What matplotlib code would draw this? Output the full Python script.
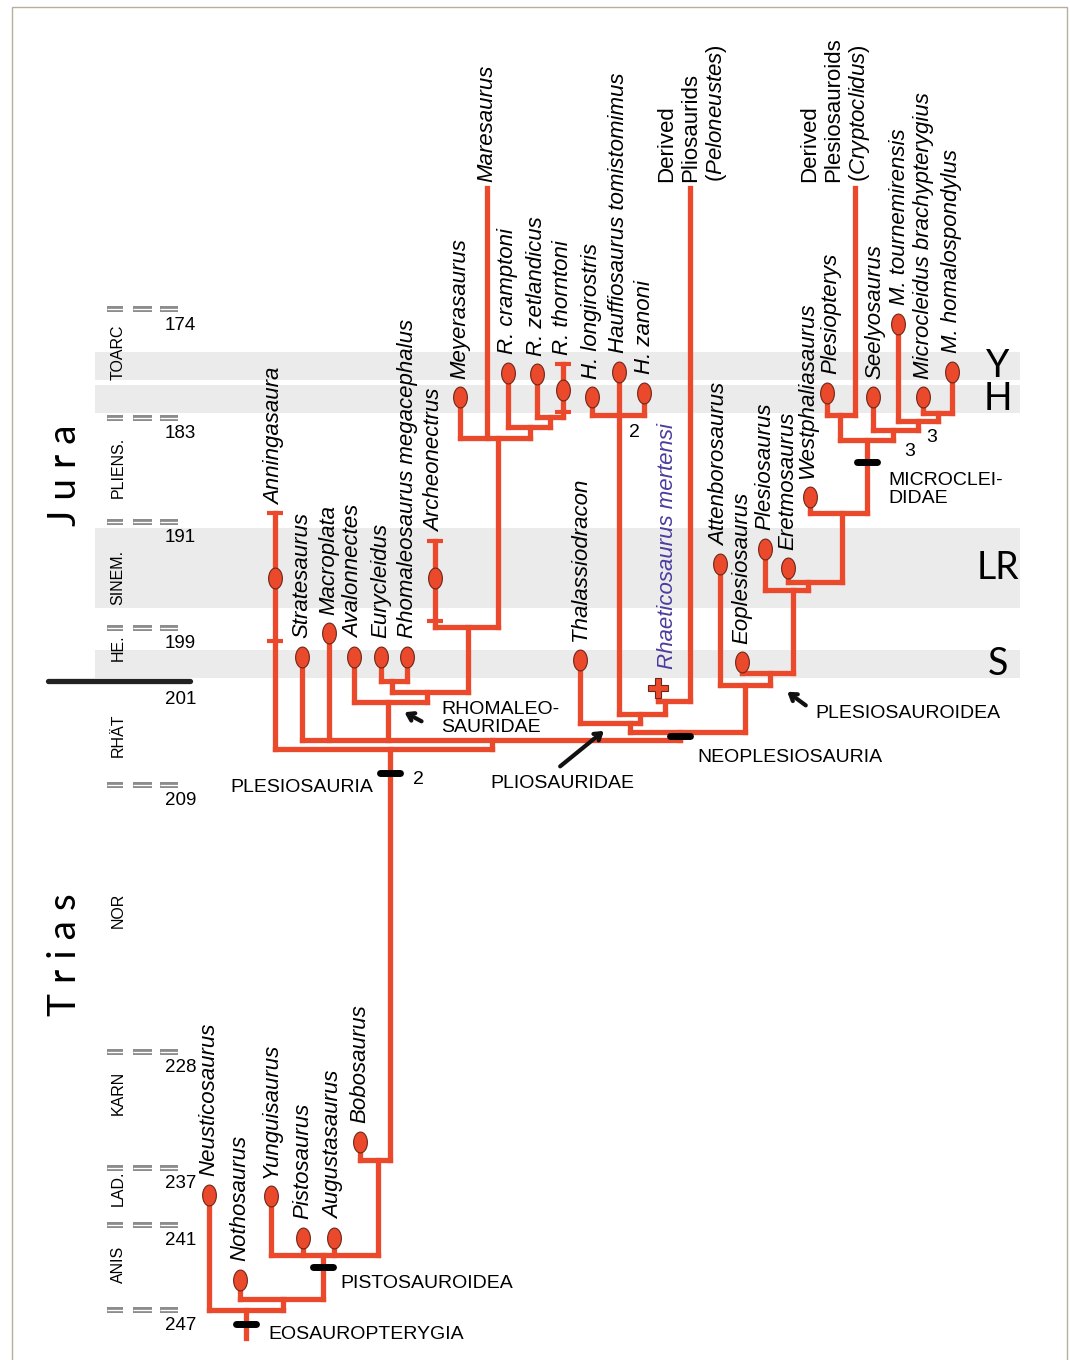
import numpy as np
import matplotlib.pyplot as plt
from matplotlib.markers import MarkerStyle
from matplotlib.path import Path
from matplotlib.patches import Rectangle

plt.rcParams['font.family'] = ['Liberation Sans', 'DejaVu Sans']
plt.rcParams['mathtext.fontset'] = 'custom'
plt.rcParams['mathtext.rm'] = 'Liberation Sans'
plt.rcParams['mathtext.it'] = 'Liberation Sans:italic'

# ---- time scale (Ma) ----
boundary_ages = [174, 183, 191, 199, 201, 209, 228, 237, 241, 247]
stage_names = ["TOARC", "PLIENS.", "SINEM.", "HE.", "RHÄT", "NOR", "KARN", "LAD.", "ANIS"]
stage_label_age = [177.6, 186.8, 195.2, 199.75, 205.2, 217.9, 231.2, 238.4, 243.8]

# grey horizons: Y, H, LR, S
horizon_names = ["Y", "H", "LR", "S"]
horizon_top = [177.55, 180.3, 191.45, 199.83]
horizon_base = [179.86, 182.6, 197.5, 200.9]

# ---- terminal taxa ----
tip_names = ["Neusticosaurus", "Nothosaurus", "Yunguisaurus", "Pistosaurus",
             "Augustasaurus", "Bobosaurus", "Anningasaura", "Stratesaurus",
             "Macroplata", "Avalonnectes", "Eurycleidus",
             "Rhomaleosaurus megacephalus", "Archeonectrus", "Meyerasaurus",
             "Maresaurus", "R. cramptoni", "R. zetlandicus", "R. thorntoni",
             "H. longirostris", "Hauffiosaurus tomistomimus", "H. zanoni",
             "Thalassiodracon", "Rhaeticosaurus mertensi",
             "Derived\nPliosaurids\n($\\it{Peloneustes}$)",
             "Attenborosaurus", "Eoplesiosaurus", "Plesiosaurus", "Eretmosaurus",
             "Westphaliasaurus", "Plesiopterys",
             "Derived\nPlesiosauroids\n($\\it{Cryptoclidus}$)",
             "Seelyosaurus", "M. tournemirensis", "Microcleidus brachypterygius",
             "M. homalospondylus"]
tip_x = [209, 240, 271, 303, 334, 360, 275, 302, 329, 354, 381, 407, 435, 460,
         487, 508, 537, 563, 592, 619, 644, 580, 658, 690, 720, 742, 765, 788,
         810, 827, 855, 873, 898, 923, 952]
tip_age = [238.9, 244.9, 239.0, 241.9, 241.9, 235.0, 195.2, 200.1, 199.2, 200.1,
           200.1, 200.1, 195.2, 181.3, 164.0, 179.3, 179.4, 180.7, 181.3, 179.2,
           180.9, 200.2, 201.5, 164.0, 194.2, 200.3, 193.0, 194.5, 189.1, 180.9,
           164.0, 181.3, 175.2, 181.3, 179.2]
tip_parent = ["Eosauropterygia", "n_b", "Pistosauroidea", "Pistosauroidea",
              "Pistosauroidea", "n_c", "Plesiosauria", "n_neo", "n_neo",
              "Rhomaleosauridae", "n_eu", "n_eu", "n_rh3", "n_rh4", "n_rh4",
              "n_rh5", "n_rh6", "n_rh6", "n_hauff", "n_hauff", "n_hauff",
              "Pliosauridae", "n_p3", "n_p3", "Plesiosauroidea", "n_ps2", "n_ps3",
              "n_ps4", "n_ps5", "n_mc1", "n_mc1", "n_mc2", "n_mc3", "n_mc4", "n_mc4"]
tip_kind = ["oval"] * len(tip_names)
for name in ["Maresaurus", tip_names[23], tip_names[30]]:
    tip_kind[tip_names.index(name)] = "line"
tip_kind[tip_names.index("Rhaeticosaurus mertensi")] = "cross"

# stratigraphic ranges (young end, old end)
range_names = ["Anningasaura", "Archeonectrus", "R. thorntoni"]
range_young = [190.3, 192.4, 178.5]
range_old = [199.5, 198.5, 182.5]

# ---- internal nodes ----
node_ids = ["root", "Eosauropterygia", "n_b", "Pistosauroidea", "n_c",
            "Plesiosauria", "n_neo", "Rhomaleosauridae", "n_rh2", "n_eu", "n_rh3",
            "n_rh4", "n_rh5", "n_rh6", "Neoplesiosauria", "Pliosauridae", "n_p2",
            "n_p3", "n_hauff", "Plesiosauroidea", "n_ps2", "n_ps3", "n_ps4",
            "n_ps5", "Microcleididae", "n_mc1", "n_mc2", "n_mc3", "n_mc4"]
node_x = [246, 246, 283, 323, 378, 390, 492, 388, 427, 392, 468, 498, 530, 550,
          680, 630, 640, 665, 619, 745, 770, 793, 808, 842, 867, 840, 893, 918, 938]
node_age = [249.0, 247.0, 246.2, 243.1, 236.4, 206.2, 205.5, 202.6, 201.85, 201.0,
            198.9, 184.5, 183.7, 182.9, 204.9, 204.2, 203.5, 202.5, 182.75, 201.3,
            200.7, 196.1, 195.5, 190.3, 184.7, 182.75, 183.9, 183.2, 182.6]
node_parent = [None, "root", "Eosauropterygia", "n_b", "Pistosauroidea", "n_c",
               "Plesiosauria", "n_neo", "Rhomaleosauridae", "n_rh2", "n_rh2",
               "n_rh3", "n_rh4", "n_rh5", "n_neo", "Neoplesiosauria", "Pliosauridae",
               "n_p2", "n_p2", "Neoplesiosauria", "Plesiosauroidea", "n_ps2",
               "n_ps3", "n_ps4", "n_ps5", "Microcleididae", "Microcleididae",
               "n_mc2", "n_mc3"]

# synapomorphy bars on clade stems
bar_nodes = ["Eosauropterygia", "Pistosauroidea", "Plesiosauria",
             "Neoplesiosauria", "Microcleididae"]
bar_age = [248.0, 244.0, 208.1, 205.2, 186.4]

RED = "#ea4a2b"
EDGE = "#6e2416"
LW = 3.8

# stretched vertical time axis: row position of each boundary
scale_age = np.array([100.0] + boundary_ages + [300.0])
scale_row = np.array([309 - 74 * 12.11, 309, 418, 522, 628, 681, 785, 1052,
                      1168, 1225, 1310, 1310 + 53 * 14.17])


def fwd(a):
    return np.interp(a, scale_age, scale_row)


def inv(r):
    return np.interp(r, scale_row, scale_age)


fig = plt.figure(figsize=(10.7, 13.6), dpi=100)
ax = fig.add_axes([0, 0, 1, 1])
ax.set_yscale('function', functions=(fwd, inv))
ax.set_xlim(0, 1070)
ax.set_ylim(250.53, 148.48)
ax.axis('off')

# horizons
for top, base in zip(horizon_top, horizon_base):
    ax.axhspan(top, base, xmin=95 / 1070, xmax=1020 / 1070, color="#ebebeb",
               lw=0, zorder=0)
for name, top, base in zip(horizon_names, horizon_top, horizon_base):
    ax.text(998, inv((fwd(top) + fwd(base)) / 2), name,
            family=['Lato', 'DejaVu Sans'], fontsize=27, ha='center',
            va='center')

# time scale
for age in boundary_ages:
    if age == 201:
        ax.plot([48, 190], [age, age], color="#222222", lw=3.8,
                solid_capstyle='round')
        ax.annotate(str(age), (196, age), xytext=(0, -13.5),
                    textcoords='offset points', ha='right', va='center',
                    fontsize=13.5)
        continue
    for x0, x1 in [(107, 123), (133, 152), (160, 178)]:
        ax.plot([x0, x1], [age, age], color="#8c8c8c", lw=4.3,
                solid_capstyle='butt')
        ax.plot([x0, x1], [age, age], color="white", lw=0.9,
                solid_capstyle='butt')
    ax.annotate(str(age), (196, age), xytext=(0, -11.5),
                textcoords='offset points', ha='right', va='center',
                fontsize=13.5)
for name, age in zip(stage_names, stage_label_age):
    ax.text(118, age, name, rotation=90, ha='center', va='center', fontsize=11.5)

ax.text(65, 187.4, "J u r a", rotation=90, ha='center', va='center',
        fontsize=28, family=['Lato', 'DejaVu Sans'])
ax.text(65, 221.1, "T r i a s", rotation=90, ha='center', va='center',
        fontsize=28, family=['Lato', 'DejaVu Sans'])

# ---- tree ----
pos = {}
for n, x, a in zip(node_ids, node_x, node_age):
    pos[n] = (x, a)
children = {}
for n, p, x in zip(node_ids, node_parent, node_x):
    if p is not None:
        children.setdefault(p, []).append(x)
for n, p, x in zip(tip_names, tip_parent, tip_x):
    children.setdefault(p, []).append(x)

line_kw = dict(color=RED, lw=LW, solid_capstyle='projecting', zorder=2)
# horizontal bars
for n, x, a in zip(node_ids, node_x, node_age):
    xs = [x] + children.get(n, [])
    if max(xs) > min(xs):
        ax.plot([min(xs), max(xs)], [a, a], **line_kw)
# stems of internal nodes
for n, x, a, p in zip(node_ids, node_x, node_age, node_parent):
    if p is not None:
        ax.plot([x, x], [a, pos[p][1]], **line_kw)
# stems of tips
for n, x, a, p in zip(tip_names, tip_x, tip_age, tip_parent):
    start = a
    if n in range_names:
        start = range_young[range_names.index(n)]
    ax.plot([x, x], [start, pos[p][1]], **line_kw)

# range ticks
for n, y0, y1 in zip(range_names, range_young, range_old):
    x = tip_x[tip_names.index(n)]
    ax.plot([x, x], [y0, y1], ls='none', marker='_', ms=12, mew=3,
            color=RED, zorder=3)

# tip markers
theta = np.linspace(0, 2 * np.pi, 60)
oval = MarkerStyle(Path(np.column_stack([0.66 * np.cos(theta), np.sin(theta)])))
for n, x, a, k in zip(tip_names, tip_x, tip_age, tip_kind):
    if k == "oval":
        ax.plot(x, a, marker=oval, ms=15, mfc=RED, mec=EDGE, mew=0.8, zorder=4)
    elif k == "cross":
        ax.plot(x, a, marker='P', ms=15, mfc=RED, mec=EDGE, mew=0.8, zorder=4)

# tip labels
nudge = {"Westphaliasaurus": -1.5, "Plesiopterys": 2.5, "Seelyosaurus": 1,
         "M. tournemirensis": 1}
for n, x, a, k in zip(tip_names, tip_x, tip_age, tip_kind):
    dx, dy = nudge.get(n, 0), 13.5
    top = a
    if n in range_names:
        top = range_young[range_names.index(n)]
        dy = 6
    if k == "line":
        dy = 4
    color = "black"
    style = 'italic'
    if k == "cross":
        dx = 7
        color = "#4b3c9e"
    if n.startswith("Derived"):
        style = 'normal'
        dx = 2 if "Plio" in n else -14
    ax.annotate(n, (x, top), xytext=(dx, dy), textcoords='offset points',
                rotation=90, ha='center', va='bottom', fontsize=16,
                fontstyle=style, color=color, multialignment='left',
                linespacing=1.18, zorder=5)

# synapomorphy bars
bar_marker = MarkerStyle('_', capstyle='round')
for n, a in zip(bar_nodes, bar_age):
    ax.plot(pos[n][0], a, marker=bar_marker, ms=15, mew=5, color="black",
            zorder=5)

# clade names
clade_kw = dict(fontsize=14, ha='left', va='center', zorder=5)
ax.text(230, 209.2, "PLESIOSAURIA", **clade_kw)
ax.text(441, 203.9, "RHOMALEO-\nSAURIDAE", linespacing=1.1, **clade_kw)
ax.text(490, 208.85, "PLIOSAURIDAE", **clade_kw)
ax.text(697, 206.9, "NEOPLESIOSAURIA", **clade_kw)
ax.text(815, 203.5, "PLESIOSAUROIDEA", **clade_kw)
ax.text(888, 188.5, "MICROCLEI-\nDIDAE", linespacing=1.1, **clade_kw)
ax.text(340, 245.1, "PISTOSAUROIDEA", **clade_kw)
ax.text(268, 248.7, "EOSAUROPTERYGIA", **clade_kw)

for x, a, s in [(418, 208.6, "2"), (634, 184.1, "2"), (910, 185.6, "3"),
                (932, 184.5, "3")]:
    ax.text(x, a, s, fontsize=14, ha='center', va='center', zorder=5)

arrow_kw = dict(arrowstyle='->,head_length=0.45,head_width=0.3', lw=3,
                color="#111111")
ax.annotate('', xy=(402, 203.3), xytext=(424, 204.2), arrowprops=arrow_kw)
ax.annotate('', xy=(606, 204.7), xytext=(558, 207.7), arrowprops=arrow_kw)
ax.annotate('', xy=(785, 201.7), xytext=(808, 203.0), arrowprops=arrow_kw)

fig.patches.append(Rectangle((12 / 1070, -0.01), 1055 / 1070, 1.01 - 7 / 1360,
                             transform=fig.transFigure, fill=False,
                             ec="#b9ae9a", lw=1))

fig.savefig("out.png", dpi=100)
